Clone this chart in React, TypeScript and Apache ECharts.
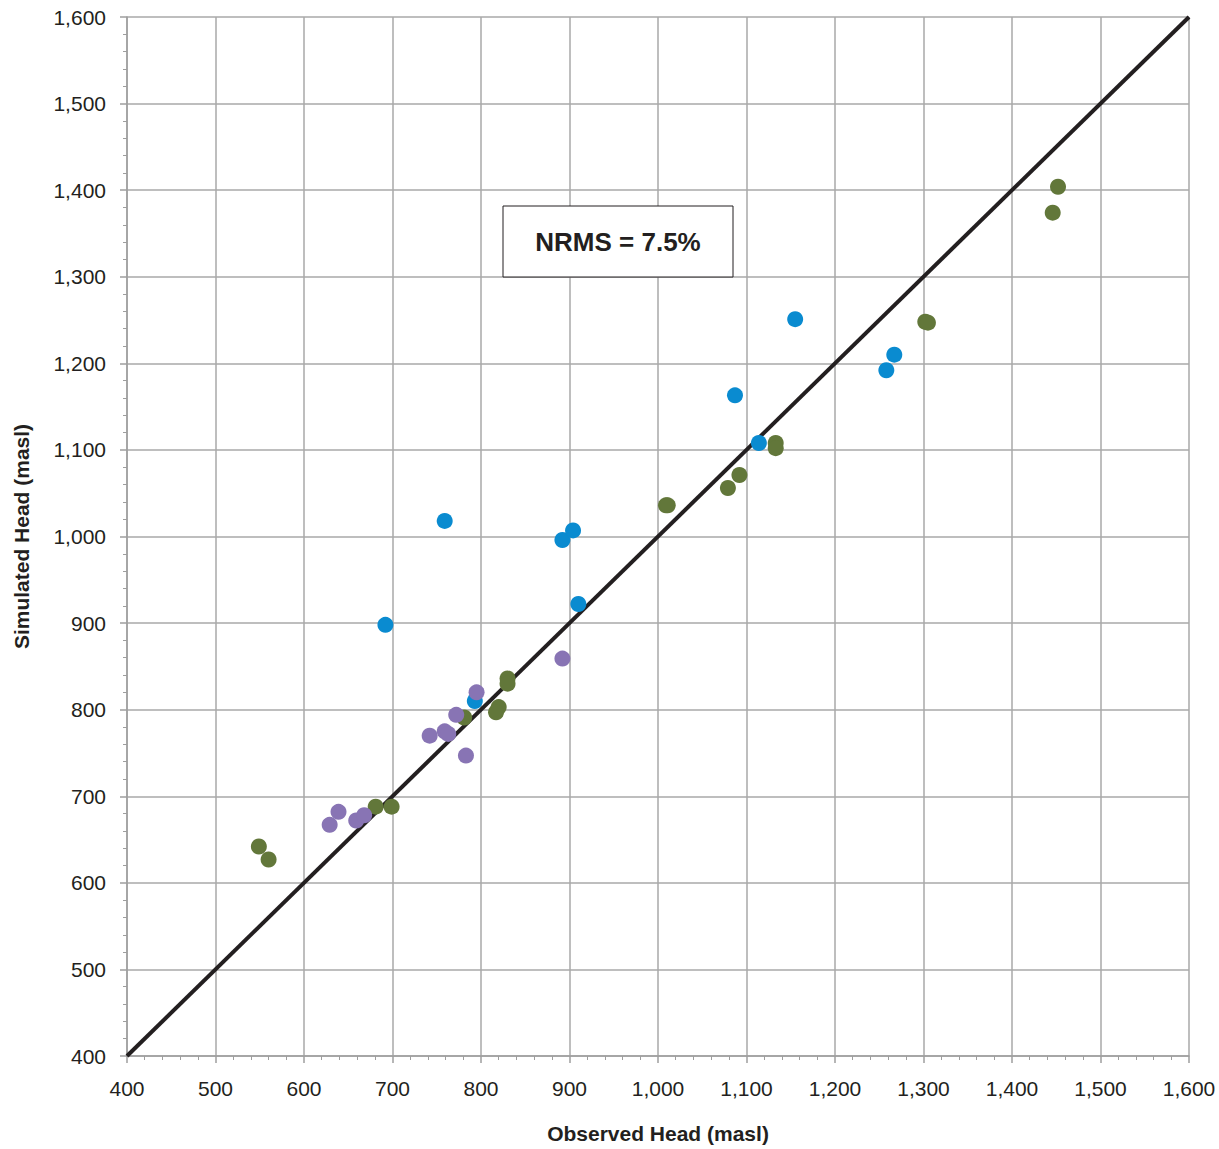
import React, { useEffect, useRef } from "react";
import * as echarts from "echarts";

const blueData: [number, number][] = [
  [692, 898], [759, 1018], [793, 810], [892, 996], [904, 1007], [910, 922],
  [1087, 1163], [1114, 1108], [1155, 1251], [1258, 1192], [1267, 1210],
];
const greenData: [number, number][] = [
  [549, 642], [560, 627], [681, 688], [699, 688], [781, 791], [820, 803],
  [817, 797], [830, 836], [830, 830], [1009, 1036], [1011, 1036], [1079, 1056],
  [1092, 1071], [1133, 1108], [1133, 1102], [1302, 1248], [1305, 1247],
  [1446, 1374], [1452, 1404],
];
const purpleData: [number, number][] = [
  [629, 667], [639, 682], [659, 672], [668, 678], [742, 770], [759, 775],
  [763, 772], [772, 794], [783, 747], [795, 820], [892, 859],
];
const oneToOne: [number, number][] = [[400, 400], [1600, 1600]];
const xTitle = "Observed Head (masl)";
const yTitle = "Simulated Head (masl)";
const annotation = "NRMS = 7.5%";

export default function App() {
  const ref = useRef<HTMLDivElement>(null);
  useEffect(() => {
    document.body.style.margin = "0";
    const chart = echarts.init(ref.current!, undefined, { renderer: "svg" });
    const fmt = (v: number) => v.toLocaleString("en-US");
    const font = "Liberation Sans, Arial, sans-serif";
    const axisCommon = {
      min: 400,
      max: 1600,
      interval: 100,
      axisLine: { show: true, onZero: false, lineStyle: { color: "#9e9e9e", width: 1.5 } },
      axisTick: { show: true, inside: false, length: 7, lineStyle: { color: "#9e9e9e", width: 1.5 } },
      minorTick: { show: true, splitNumber: 5, length: 4, lineStyle: { color: "#9e9e9e", width: 1 } },
      splitLine: { show: true, lineStyle: { color: "#a8a8a8", width: 1.5 } },
      axisLabel: {
        formatter: fmt,
        color: "#231f20",
        fontSize: 21,
        fontFamily: font,
      },
      nameTextStyle: {
        color: "#231f20",
        fontSize: 21,
        fontWeight: "bold",
        fontFamily: font,
      },
      nameLocation: "middle",
    };
    const scatterCommon = { type: "scatter", symbolSize: 16, z: 3 };
    chart.setOption({
      animation: false,
      backgroundColor: "#ffffff",
      grid: { left: 127, right: 30, top: 17, bottom: 91, containLabel: false },
      xAxis: { ...axisCommon, type: "value", name: xTitle, nameGap: 67, axisLabel: { ...axisCommon.axisLabel, margin: 22 } },
      yAxis: { ...axisCommon, type: "value", name: yTitle, nameGap: 95, axisLabel: { ...axisCommon.axisLabel, margin: 21 } },
      series: [
        {
          type: "line",
          data: oneToOne,
          symbol: "none",
          lineStyle: { color: "#231f20", width: 4 },
          z: 2,
        },
        { ...scatterCommon, data: blueData, itemStyle: { color: "#0a8bd0", opacity: 1 } },
        { ...scatterCommon, data: greenData, itemStyle: { color: "#62773a", opacity: 1 } },
        { ...scatterCommon, data: purpleData, itemStyle: { color: "#8874b4", opacity: 1 } },
      ],
      graphic: [
        {
          type: "rect",
          shape: { x: 503, y: 206, width: 230, height: 71 },
          style: { fill: "#ffffff", stroke: "#231f20", lineWidth: 1 },
          z: 10,
        },
        {
          type: "text",
          x: 618,
          y: 242,
          style: {
            text: annotation,
            fill: "#231f20",
            fontSize: 26,
            fontWeight: "bold",
            fontFamily: font,
            align: "center",
            verticalAlign: "middle",
          },
          z: 11,
        },
      ],
    });
    return () => chart.dispose();
  }, []);
  return <div ref={ref} style={{ width: 1219, height: 1149 }} />;
}
